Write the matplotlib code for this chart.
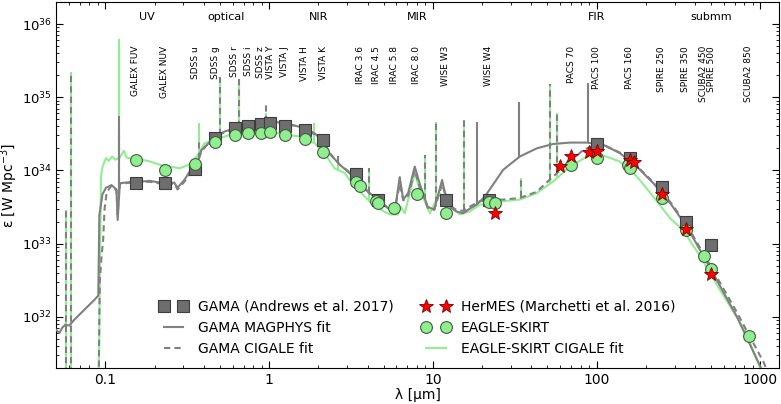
import numpy as np
import matplotlib
matplotlib.use("Agg")
import matplotlib.pyplot as plt
from matplotlib.ticker import FormatStrFormatter

# photometric bands: labels and wavelengths [micron]
band_names = ["GALEX FUV", "GALEX NUV", "SDSS u", "SDSS g", "SDSS r", "SDSS i",
              "SDSS z", "VISTA Y", "VISTA J", "VISTA H", "VISTA K",
              "IRAC 3.6", "IRAC 4.5", "IRAC 5.8", "IRAC 8.0", "WISE W3",
              "WISE W4", "PACS 70", "PACS 100", "PACS 160", "SPIRE 250",
              "SPIRE 350", "SCUBA2 450", "SPIRE 500", "SCUBA2 850"]
band_wl = [0.153, 0.231, 0.355, 0.469, 0.617, 0.748, 0.893, 1.02, 1.25, 1.65,
           2.15, 3.6, 4.5, 5.8, 8.0, 12, 22, 70, 100, 160, 250, 350, 450, 500,
           850]

regions = ["UV", "optical", "NIR", "MIR", "FIR", "submm"]
region_wl = [0.18, 0.55, 2.0, 8.0, 100, 500]

# GAMA (Andrews et al. 2017)
gama_wl = [0.153, 0.231, 0.355, 0.469, 0.617, 0.748, 0.893, 1.02, 1.25, 1.65,
           2.15, 3.4, 4.6, 12, 22, 100, 160, 250, 350, 500]
gama_eps = [6.8e33, 6.8e33, 1.05e34, 2.75e34, 3.8e34, 4.0e34, 4.25e34, 4.4e34,
            4.1e34, 3.6e34, 2.6e34, 8.9e33, 4.0e33, 4.0e33, 4.0e33, 2.29e34,
            1.5e34, 5.9e33, 1.97e33, 9.7e32]

# HerMES (Marchetti et al. 2016)
hermes_wl = [24, 60, 70, 90, 100, 160, 170, 250, 350, 500]
hermes_eps = [2.6e33, 1.16e34, 1.55e34, 1.78e34, 1.86e34, 1.4e34, 1.29e34,
              4.8e33, 1.6e33, 3.9e32]

# EAGLE-SKIRT
eagle_wl = [0.153, 0.231, 0.355, 0.469, 0.617, 0.748, 0.893, 1.02, 1.25, 1.65,
            2.15, 3.4, 3.6, 4.5, 4.6, 5.8, 8.0, 12, 22, 24, 70, 100, 156, 160,
            250, 350, 450, 500, 850]
eagle_eps = [1.4e34, 1.0e34, 1.24e34, 2.43e34, 3.0e34, 3.2e34, 3.2e34, 3.35e34,
             3.0e34, 2.7e34, 1.78e34, 7.0e33, 6.2e33, 3.85e33, 3.55e33, 3.05e33,
             4.8e33, 2.6e33, 3.7e33, 3.6e33, 1.18e34, 1.5e34, 1.18e34, 1.07e34,
             4.2e33, 1.55e33, 6.7e32, 4.5e32, 5.5e31]

# GAMA MAGPHYS fit
magphys_wl = [0.050, 0.0524, 0.0546, 0.0569, 0.0602, 0.0646, 0.0745, 0.0857,
              0.0906, 0.092, 0.096, 0.101, 0.109, 0.117, 0.119, 0.1226, 0.140,
              0.160, 0.186, 0.21, 0.23, 0.264, 0.276, 0.304, 0.327, 0.35,
              0.365, 0.386, 0.415, 0.465, 0.535, 0.66, 0.815, 0.98, 1.16, 1.43,
              1.65, 1.9, 2.1, 2.34, 2.7, 3.1, 3.57, 4.12, 4.74, 5.46, 5.86,
              6.28, 6.6, 7.07, 7.76, 8.3, 8.7, 9.3, 10.2, 11.0, 11.4, 11.8,
              12.7, 13.9, 15.3, 16.8, 18.5, 20.8, 26.9, 34, 43.1, 54.4, 68.9,
              87.1, 110, 139, 176, 222, 282, 356, 483, 720, 1000, 1300]
magphys_eps = [6.7e31, 6.0e31, 7.1e31, 7.8e31, 7.6e31, 9.1e31, 1.25e32, 1.7e32,
               1.95e32, 2.45e33, 4.7e33, 5.8e33, 6.3e33, 5.5e33, 2.1e33, 6.7e33,
               6.9e33, 7.0e33, 7.2e33, 6.9e33, 6.6e33, 6.8e33, 5.8e33, 7.4e33,
               9.6e33, 1.1e34, 1.3e34, 1.9e34, 2.2e34, 2.9e34, 3.4e34, 3.9e34,
               4.3e34, 4.8e34, 4.5e34, 4.1e34, 3.8e34, 3.2e34, 2.6e34, 1.7e34,
               1.2e34, 9.2e33, 6.7e33, 4.9e33, 3.8e33, 2.9e33, 2.75e33, 8.1e33,
               4.0e33, 4.9e33, 1.13e34, 6.7e33, 4.9e33, 3.2e33, 2.9e33, 5.5e33,
               7.4e33, 5.2e33, 3.2e33, 2.75e33, 2.6e33, 3.0e33, 3.4e33, 4.4e33,
               1.02e34, 1.55e34, 2.0e34, 2.3e34, 2.4e34, 2.4e34, 2.24e34,
               1.72e34, 1.13e34, 6.7e33, 3.56e33, 1.7e33, 5.1e32, 1.0e32,
               2.1e31, 6e30]
magphys_line_wl = [0.1216, 18.71, 33.48, 88.36]
magphys_line_top = [5.6e34, 4.6e34, 8.7e34, 1.55e35]

# GAMA CIGALE fit
gama_cigale_wl = [0.0912, 0.0925, 0.095, 0.097, 0.099, 0.102, 0.109, 0.117,
                  0.119, 0.1226, 0.14, 0.186, 0.23, 0.264, 0.276, 0.304, 0.327,
                  0.35, 0.365, 0.386, 0.415, 0.465, 0.535, 0.66, 0.815, 0.98,
                  1.16, 1.43, 1.65, 1.9, 2.1, 2.34, 2.7, 3.1, 3.57, 4.12, 4.74,
                  5.46, 5.86, 6.28, 6.6, 7.07, 7.76, 8.3, 8.7, 9.3, 10.2, 11.0,
                  11.4, 11.8, 12.7, 13.9, 15.3, 16.8, 19.4, 26.9, 34, 43.1,
                  54.4, 68.9, 82.9, 98, 110, 139, 176, 222, 282, 356, 483, 720,
                  1047, 1300]
gama_cigale_eps = [1.5e31, 3e32, 7e32, 1.1e33, 3e33, 5e33, 6.2e33, 5.3e33,
                   2.5e33, 6.5e33, 6.8e33, 7.0e33, 6.5e33, 6.6e33, 5.5e33,
                   7.0e33, 9.0e33, 1.05e34, 1.25e34, 1.8e34, 2.2e34, 2.8e34,
                   3.35e34, 3.9e34, 4.3e34, 4.6e34, 4.4e34, 4.1e34, 3.7e34,
                   3.1e34, 2.6e34, 1.75e34, 1.2e34, 9.5e33, 6.6e33, 4.8e33,
                   3.7e33, 3.0e33, 2.9e33, 6.5e33, 3.9e33, 4.5e33, 1.0e34,
                   6.0e33, 5.0e33, 3.1e33, 2.9e33, 5.0e33, 6.5e33, 5.0e33,
                   3.3e33, 2.9e33, 2.8e33, 3.2e33, 3.8e33, 4.0e33, 4.2e33,
                   5.1e33, 8.3e33, 1.32e34, 1.9e34, 2.24e34, 2.24e34, 1.75e34,
                   1.15e34, 6.9e33, 3.7e33, 1.8e33, 5.5e32, 1.15e32, 2.4e31,
                   8e30]

# EAGLE-SKIRT CIGALE fit
eagle_cigale_wl = [0.0912, 0.0941, 0.0963, 0.101, 0.105, 0.11, 0.115, 0.1226,
                   0.13, 0.135, 0.14, 0.161, 0.186, 0.214, 0.246, 0.284, 0.327,
                   0.376, 0.403, 0.465, 0.574, 0.76, 0.938, 1.16, 1.54, 1.9,
                   2.18, 2.51, 2.9, 3.1, 3.33, 3.57, 4.42, 5.46, 6.1, 6.37,
                   6.74, 7.76, 8.3, 9.6, 11.0, 11.8, 14.6, 16.8, 19.4, 22.3,
                   26.9, 34, 43.1, 54.4, 68.9, 87.1, 110, 139, 176, 222, 282,
                   336, 428, 566, 800, 990, 1300]
eagle_cigale_eps = [1.5e31, 8.3e33, 1.13e34, 1.47e34, 1.35e34, 1.55e34,
                    1.4e34, 1.5e34, 1.85e34, 1.5e34, 1.47e34, 1.43e34, 1.33e34,
                    1.2e34, 1.13e34, 1.07e34, 1.2e34, 1.72e34, 2.35e34, 2.6e34,
                    3.06e34, 3.3e34, 3.4e34, 3.2e34, 2.9e34, 2.35e34, 1.72e34,
                    1.07e34, 9.2e33, 7.4e33, 6.7e33, 5.2e33, 3.2e33, 2.5e33,
                    2.5e33, 3.2e33, 2.6e33, 9.2e33, 5.5e33, 2.6e33, 4.9e33,
                    4.0e33, 2.5e33, 2.75e33, 3.4e33, 3.6e33, 3.8e33, 4.0e33,
                    4.9e33, 7.1e33, 1.13e34, 1.54e34, 1.6e34, 1.32e34, 8.3e33,
                    4.4e33, 2.2e33, 1.55e33, 6.8e32, 2.35e32, 6.7e31, 2.1e31,
                    5e30]

# emission lines of the CIGALE fits
cigale_line_wl = [0.0575, 0.0617, 0.1216, 0.3727, 0.5007, 0.6563, 0.9532,
                  1.875, 2.63, 4.05, 8.99, 10.51, 15.56, 34.8, 51.8, 57.3]
gama_cigale_line_top = [2.9e33, 2.2e35, 3e34, 2.5e34, 1.9e35, 1.75e35, 7.9e34,
                        3e34, 1.55e34, 1.07e34, 1.6e34, 4.6e34, 4.9e34, 7.8e33,
                        1.5e35, 6.0e34]
eagle_cigale_line_top = [2.9e33, 2.2e35, 6.2e35, 4.4e34, 1.9e35, 1.75e35,
                         6e34, 4.4e34, 1.55e34, 1.07e34, 1.6e34, 4.6e34, 4.9e34,
                         7.8e33, 1.5e35, 6.0e34]

GRAY = "#808080"
GREEN = "#90ee90"


def line_base(wl, curve_wl, curve_eps):
    """continuum level under each emission line (log-log)"""
    return 10 ** np.interp(np.log10(wl), np.log10(curve_wl),
                           np.log10(curve_eps), left=30.0)


fig = plt.figure(figsize=(7.81, 4.04), dpi=100)
ax = fig.add_axes([0.0717, 0.0891, 0.9257, 0.906])

# fits
ax.plot(eagle_cigale_wl, eagle_cigale_eps, color=GREEN, lw=1.5,
        label="EAGLE-SKIRT CIGALE fit", zorder=2)
ax.vlines(cigale_line_wl,
          line_base(cigale_line_wl, eagle_cigale_wl, eagle_cigale_eps),
          eagle_cigale_line_top, colors=GREEN, lw=1.5, zorder=2)
ax.plot(magphys_wl, magphys_eps, color=GRAY, lw=1.5,
        label="GAMA MAGPHYS fit", zorder=3)
ax.vlines(magphys_line_wl,
          line_base(magphys_line_wl, magphys_wl, magphys_eps),
          magphys_line_top, colors=GRAY, lw=1.5, zorder=3)
ax.plot(gama_cigale_wl, gama_cigale_eps, color=GRAY, lw=1.5, ls="--",
        dashes=(3, 2), label="GAMA CIGALE fit", zorder=3)
ax.vlines(cigale_line_wl,
          line_base(cigale_line_wl, gama_cigale_wl, gama_cigale_eps),
          gama_cigale_line_top, colors=GRAY, lw=1.5,
          linestyles=(0, (3, 2)), zorder=3)

# observed / simulated photometry
ax.plot(gama_wl, gama_eps, ls="none", marker="s", ms=8.5, mfc="#6e6e6e",
        mec="#3c3c3c", mew=0.8, label="GAMA (Andrews et al. 2017)", zorder=4)
ax.plot(eagle_wl, eagle_eps, ls="none", marker="o", ms=8.5, mfc=GREEN,
        mec="#3f5f3f", mew=0.8, label="EAGLE-SKIRT", zorder=5)
ax.plot(hermes_wl, hermes_eps, ls="none", marker="*", ms=10.5, mfc="red",
        mec="#7a0000", mew=0.6, label="HerMES (Marchetti et al. 2016)",
        zorder=6)

ax.set_xscale("log")
ax.set_yscale("log")
ax.set_xlim(0.05, 1300)
ax.set_ylim(2e31, 2e36)
ax.xaxis.set_major_formatter(FormatStrFormatter("%g"))
ax.tick_params(which="both", direction="in", top=True, right=True,
               labelsize=10)
ax.tick_params(axis="y", labelsize=9.5, pad=3)
ax.tick_params(which="major", length=5)
ax.tick_params(which="minor", length=2.5)
ax.set_xlabel("λ [μm]", fontsize=10, labelpad=1)
ax.set_ylabel("ε [W Mpc$^{-3}$]", fontsize=10, labelpad=1)

trans = ax.get_xaxis_transform()
for name, wl in zip(band_names, band_wl):
    ax.text(wl, 0.88, name, rotation=90, ha="center", va="top",
            fontsize=6.5, transform=trans)
for name, wl in zip(regions, region_wl):
    ax.text(wl, 0.959, name, ha="center", va="center", fontsize=8,
            transform=trans)

handles, labels = ax.get_legend_handles_labels()
order = ["GAMA (Andrews et al. 2017)", "GAMA MAGPHYS fit", "GAMA CIGALE fit",
         "HerMES (Marchetti et al. 2016)", "EAGLE-SKIRT",
         "EAGLE-SKIRT CIGALE fit"]
lookup = dict(zip(labels, handles))
ax.legend([lookup[k] for k in order], order, loc="lower center", ncol=2,
          numpoints=2, frameon=False, fontsize=10)

fig.savefig("out.png", dpi=100)
